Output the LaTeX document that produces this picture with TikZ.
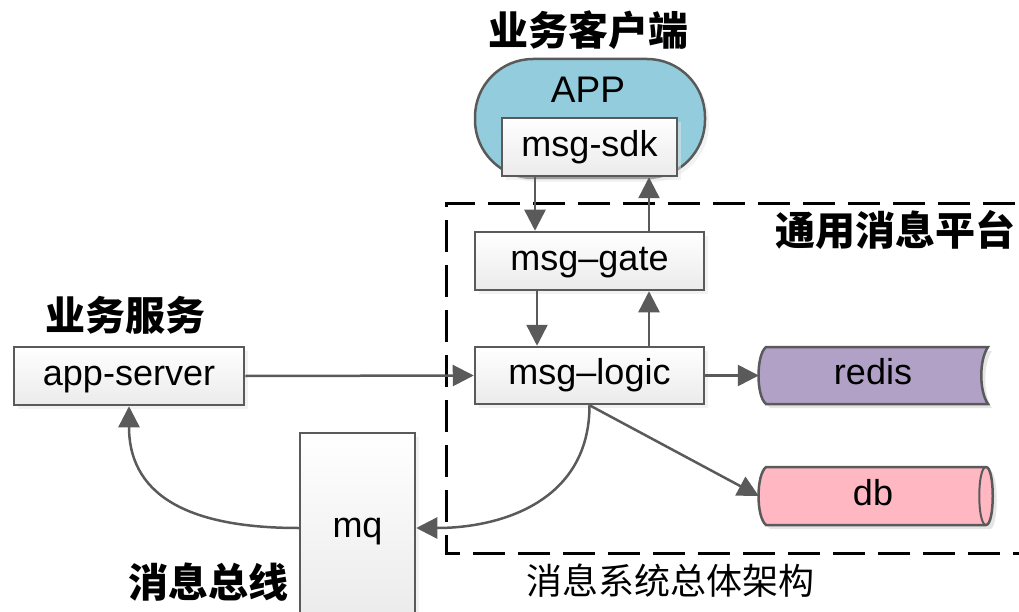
\documentclass[tikz,border=0pt]{standalone}
\usepackage{fontspec}
\setmainfont{Liberation Sans}
\newfontfamily\cjk{Noto Sans CJK SC}
\usetikzlibrary{arrows.meta,shadows}
\definecolor{edge}{HTML}{5A5A5A}
\definecolor{appblue}{HTML}{93CDDD}
\definecolor{redisc}{HTML}{B2A1C7}
\definecolor{dbc}{HTML}{FFB7C2}
\begin{document}
\begin{tikzpicture}[x=1pt,y=-1pt,
  txt/.style={font=\fontsize{36}{40}\selectfont, inner sep=0pt, text height=26pt, text depth=7.5pt},
  box/.style={txt, draw=edge, line width=2.5pt, top color=white, bottom color=black!8,
    drop shadow={shadow xshift=4pt, shadow yshift=-4pt, fill=black!10}},
  arr/.style={draw=edge, line width=2.5pt, -{Triangle[length=21pt,width=21pt]}},
  head/.style={font=\cjk\bfseries\fontsize{40}{44}\selectfont, inner sep=0pt},
  capt/.style={font=\cjk\fontsize{36}{40}\selectfont, inner sep=0pt},
  shp/.style={draw=edge, line width=2.5pt},
]
\useasboundingbox (0,0) rectangle (1019,612);

% dashed platform frame
\draw[black, line width=3pt, dash pattern=on 32pt off 13pt] (1060,204) -- (446,204) -- (446,553) -- (1060,553);

% APP client shape
\node[shp, fill=appblue, rounded corners=58pt, minimum width=230pt, minimum height=119pt,
  drop shadow={shadow xshift=4pt, shadow yshift=-4pt, fill=black!10}] (app) at (590,118.5) {};
\node[txt, font=\fontsize{37}{40}\selectfont] (apptxt) at (588,93) {APP};

% boxes
\node[box, minimum width=175pt, minimum height=58pt] (sdk) at (589.5,147) {msg-sdk};
\node[box, minimum width=229pt, minimum height=58pt] (gate) at (589.5,261) {msg–gate};
\node[box, minimum width=229pt, minimum height=57pt] (logic) at (589.5,375.5) {msg–logic};
\node[box, minimum width=230pt, minimum height=58pt] (appserver) at (129,376) {app-server};
\node[box, minimum width=115pt, minimum height=190pt] (mq) at (357.5,528) {mq};

% redis (stored data shape)
\fill[black!10] (770,351) -- (992,351) .. controls (983,364) and (983,395) .. (992,408) -- (770,408) .. controls (760,400) and (760,359) .. (770,351) -- cycle;
\draw[shp, fill=redisc] (766,347) -- (988,347) .. controls (979,360) and (979,391) .. (988,404) -- (766,404) .. controls (756,396) and (756,355) .. (766,347) -- cycle;
\node[txt, minimum width=228pt, minimum height=57pt] (redis) at (873,375.5) {redis};

% db (horizontal cylinder)
\fill[black!10] (770,471) -- (990,471) .. controls (999,471) and (999,529) .. (990,529) -- (770,529) .. controls (760,521) and (760,479) .. (770,471) -- cycle;
\draw[shp, fill=dbc] (766,467) -- (986,467) .. controls (995,467) and (995,525) .. (986,525) -- (766,525) .. controls (756,517) and (756,475) .. (766,467) -- cycle;
\draw[draw=edge, line width=2pt] (986,467) .. controls (977,467) and (977,525) .. (986,525);
\node[txt, minimum width=228pt, minimum height=58pt] (db) at (873,496) {db};

% headings
\node[head] (h1) at (588,30) {业务客户端};
\node[head] (h2) at (895,230) {通用消息平台};
\node[head] (h3) at (125,315) {业务服务};
\node[head] (h4) at (208,582) {消息总线};
\node[capt] (cap) at (670,581) {消息系统总体架构};

% connectors
\draw[arr] ([xshift=-54.5pt]sdk.south) -- ([xshift=-54.5pt]gate.north);
\draw[arr] ([xshift=59.5pt]gate.north) -- ([xshift=59.5pt]sdk.south);
\draw[arr] ([xshift=-52.5pt]gate.south) -- ([xshift=-52.5pt]logic.north);
\draw[arr] ([xshift=59.5pt]logic.north) -- ([xshift=59.5pt]gate.south);
\draw[arr] (appserver.east) -- (logic.west);
\draw[arr] (logic.east) -- (redis.west);
\draw[arr] (logic.south) -- (db.west);
\draw[arr] (logic.south) .. controls +(0,96) and +(85,0) .. (mq.east);
\draw[arr] (mq.west) .. controls +(-100,0) and +(0,95) .. (appserver.south);
\end{tikzpicture}
\end{document}
